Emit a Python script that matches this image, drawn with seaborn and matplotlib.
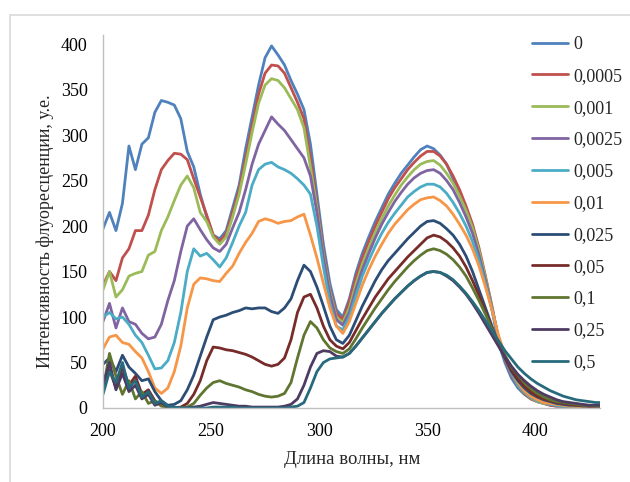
import matplotlib
matplotlib.use("Agg")
import matplotlib.pyplot as plt
import seaborn as sns
import pandas as pd
from matplotlib.patches import Rectangle

wavelength = [200, 203, 206, 209, 212, 215, 218, 221, 224, 227, 230, 233, 236, 239, 242, 245, 248, 251, 254, 257,
              260, 263, 266, 269, 272, 275, 278, 281, 284, 287, 290, 293, 296, 299, 302, 305, 308, 311, 314, 317,
              320, 323, 326, 329, 332, 335, 338, 341, 344, 347, 350, 353, 356, 359, 362, 365, 368, 371, 374, 377,
              380, 383, 386, 389, 392, 395, 398, 401, 404, 407, 410, 413, 416, 419, 422, 425, 428, 430]

labels = ["0", "0,0005", "0,001", "0,0025", "0,005", "0,01", "0,025", "0,05", "0,1", "0,25", "0,5"]
colors = ["#4F81BD", "#C0504D", "#9BBB59", "#8064A2", "#4BACC6", "#F79646",
          "#2C4D75", "#772C2A", "#5F7530", "#4D3B62", "#276A7C"]

c_0 = [197, 215, 195, 225, 288, 262, 290, 297, 325, 338, 336, 333, 318, 282, 265, 235, 210, 190, 186, 195,
       220, 245, 285, 320, 355, 385, 398, 388, 377, 360, 345, 328, 290, 235, 180, 137, 108, 100, 120, 148,
       170, 188, 205, 220, 235, 247, 258, 267, 276, 284, 288, 285, 278, 268, 252, 237, 220, 200, 172, 140,
       108, 72, 50, 33, 22, 15, 10, 7, 5, 3, 2, 2, 1, 1, 1, 0, 0, 0]
c_00005 = [135, 150, 140, 165, 175, 195, 195, 212, 240, 262, 272, 280, 279, 273, 252, 232, 212, 190, 183, 192,
           215, 240, 275, 310, 345, 368, 377, 376, 368, 352, 336, 318, 275, 225, 172, 130, 104, 97, 117, 143,
           165, 183, 200, 215, 230, 242, 252, 262, 270, 277, 282, 282, 277, 268, 255, 240, 222, 202, 176, 145,
           112, 76, 53, 36, 25, 16, 10, 7, 5, 3, 2, 2, 1, 1, 1, 0, 0, 0]
c_0001 = [130, 150, 122, 130, 145, 148, 150, 168, 172, 195, 210, 228, 245, 255, 242, 215, 205, 188, 180, 188,
          210, 235, 268, 303, 335, 355, 362, 360, 352, 340, 328, 308, 265, 220, 168, 128, 100, 94, 110, 136,
          158, 176, 193, 208, 222, 234, 245, 254, 262, 268, 271, 272, 267, 258, 247, 233, 217, 198, 173, 143,
          111, 77, 55, 38, 25, 17, 11, 7, 5, 4, 3, 2, 2, 1, 1, 1, 0, 0]
c_00025 = [95, 115, 88, 110, 95, 92, 82, 76, 78, 92, 118, 140, 172, 200, 208, 196, 185, 176, 172, 180,
           198, 215, 240, 268, 290, 305, 320, 312, 305, 295, 285, 275, 255, 215, 165, 125, 97, 91, 105, 130,
           152, 170, 187, 202, 215, 227, 237, 246, 253, 258, 261, 262, 258, 250, 240, 226, 210, 192, 168, 140,
           110, 77, 55, 38, 26, 18, 12, 8, 6, 4, 3, 2, 2, 1, 1, 1, 1, 1]
c_0005 = [100, 105, 98, 100, 92, 80, 72, 58, 43, 44, 52, 72, 105, 150, 175, 167, 170, 163, 155, 165,
          182, 200, 215, 245, 262, 268, 270, 265, 262, 258, 252, 245, 235, 200, 155, 115, 90, 86, 100, 123,
          145, 162, 178, 192, 204, 214, 223, 232, 238, 243, 246, 246, 243, 236, 226, 214, 200, 183, 162, 136,
          108, 78, 56, 38, 26, 18, 12, 8, 6, 4, 3, 2, 2, 1, 1, 1, 1, 1]
c_001 = [65, 78, 80, 72, 70, 62, 55, 40, 22, 16, 22, 40, 68, 110, 136, 143, 142, 140, 139, 148,
         156, 170, 182, 192, 205, 208, 206, 203, 205, 206, 210, 213, 190, 165, 137, 110, 90, 82, 95, 115,
         135, 152, 167, 180, 192, 202, 210, 218, 224, 229, 231, 232, 228, 222, 213, 202, 190, 175, 156, 133,
         108, 80, 58, 40, 28, 19, 13, 9, 6, 5, 4, 3, 2, 2, 1, 1, 1, 1]
c_0025 = [48, 55, 40, 58, 45, 38, 30, 32, 18, 8, 3, 4, 8, 20, 36, 57, 78, 97, 100, 102,
          105, 107, 110, 109, 110, 110, 106, 104, 110, 120, 140, 157, 150, 133, 112, 90, 75, 71, 80, 96,
          112, 126, 140, 152, 162, 170, 178, 186, 193, 200, 205, 206, 203, 197, 190, 180, 167, 150, 130, 110,
          90, 70, 55, 40, 30, 22, 16, 12, 9, 7, 5, 4, 3, 3, 2, 2, 2, 2]
c_005 = [30, 42, 22, 45, 25, 35, 15, 20, 8, 3, 1, 0, 1, 5, 15, 30, 52, 67, 66, 64,
         63, 61, 59, 56, 52, 48, 46, 48, 55, 75, 105, 122, 125, 110, 90, 75, 68, 65, 72, 85,
         98, 110, 122, 132, 142, 150, 158, 166, 173, 180, 187, 190, 188, 183, 176, 167, 155, 140, 124, 106,
         88, 70, 56, 42, 32, 24, 18, 13, 10, 8, 6, 5, 4, 3, 3, 2, 2, 2]
c_01 = [20, 60, 35, 15, 30, 10, 18, 5, 8, 2, 1, 0, 0, 1, 5, 14, 22, 28, 30, 27,
        25, 23, 20, 18, 15, 13, 12, 13, 16, 28, 55, 80, 95, 88, 75, 66, 62, 60, 65, 76,
        88, 99, 110, 120, 130, 139, 147, 155, 162, 168, 173, 175, 173, 169, 163, 155, 145, 132, 118, 103,
        87, 70, 58, 45, 36, 28, 21, 16, 12, 9, 7, 6, 5, 4, 3, 3, 2, 2]
c_025 = [25, 50, 20, 38, 18, 25, 10, 15, 3, 6, 1, 0, 0, 0, 1, 2, 4, 6, 5, 4,
         3, 2, 2, 1, 1, 1, 1, 1, 2, 4, 10, 25, 45, 60, 63, 62, 57, 56, 60, 68,
         77, 86, 95, 104, 112, 120, 127, 134, 140, 145, 149, 150, 149, 145, 140, 133, 125, 115, 104, 92,
         80, 68, 56, 46, 37, 30, 24, 19, 15, 12, 9, 7, 6, 5, 4, 3, 3, 3]
c_05 = [15, 40, 28, 50, 22, 30, 12, 18, 5, 8, 2, 1, 0, 0, 0, 0, 0, 1, 1, 1,
        1, 0, 0, 0, 0, 0, 0, 0, 0, 1, 2, 6, 22, 40, 50, 54, 55, 56, 60, 68,
        77, 86, 95, 104, 112, 120, 127, 134, 140, 145, 149, 150, 149, 146, 141, 134, 126, 117, 107, 96,
        85, 74, 63, 54, 45, 38, 32, 27, 23, 19, 16, 13, 11, 9, 8, 7, 6, 6]

series = [c_0, c_00005, c_0001, c_00025, c_0005, c_001, c_0025, c_005, c_01, c_025, c_05]

rows = []
for lab, vals in zip(labels, series):
    for x, v in zip(wavelength, vals):
        rows.append({"wl": x, "val": v, "conc": lab})
df = pd.DataFrame(rows)

sns.set_theme(style="white")
serif = ["Liberation Serif", "DejaVu Serif"]
plt.rcParams["font.family"] = serif
FS = 13

fig = plt.figure(figsize=(6.3, 4.82), dpi=100)
ax = fig.add_axes([103 / 630, 1 - 408 / 482, (600 - 103) / 630, (408 - 35) / 482])

fig.patches.append(Rectangle((10 / 630, -0.2), 1.2, 1 - 15 / 482 + 0.2, transform=fig.transFigure,
                             fill=False, edgecolor="#D9D9D9", linewidth=1.2))

sns.lineplot(data=df, x="wl", y="val", hue="conc", hue_order=labels, palette=colors,
             linewidth=2.0, estimator=None, sort=True, ax=ax)

ax.set_xlim(200, 430)
ax.set_ylim(0, 410)
ax.set_xticks([200, 250, 300, 350, 400])
ax.set_yticks([0, 50, 100, 150, 200, 250, 300, 350, 400])
ax.tick_params(axis="both", length=0, labelsize=FS, colors="#000000")
ax.tick_params(axis="y", pad=11)
ax.tick_params(axis="x", pad=11)
for lbl in ax.get_xticklabels() + ax.get_yticklabels():
    lbl.set_family(serif)
ax.set_xlabel("")
ax.set_ylabel("")
for s in ["top", "right"]:
    ax.spines[s].set_visible(False)
for s in ["left", "bottom"]:
    ax.spines[s].set_color("#BFBFBF")
    ax.spines[s].set_linewidth(1.0)

fig.text(352 / 630, 1 - 459 / 482, "Длина волны, нм", ha="center", va="center", fontsize=13.5, family=serif)
fig.text(45 / 630, 1 - 231 / 482, "Интенсивность флуоресценции, у.е.", ha="center", va="center",
         rotation=90, fontsize=13, family=serif)

handles, labs = ax.get_legend_handles_labels()
if ax.legend_:
    ax.legend_.remove()
leg = fig.legend(handles, labs, loc="upper left", bbox_to_anchor=(532 / 630, 1 - 36 / 482),
                 frameon=False, fontsize=FS, handlelength=2.0, handletextpad=0.28,
                 labelspacing=0.82, borderpad=0, borderaxespad=0)
for t in leg.get_texts():
    t.set_family(serif)
for h in leg.get_lines():
    h.set_linewidth(2.0)

fig.savefig("out.png", dpi=100, facecolor="white")
